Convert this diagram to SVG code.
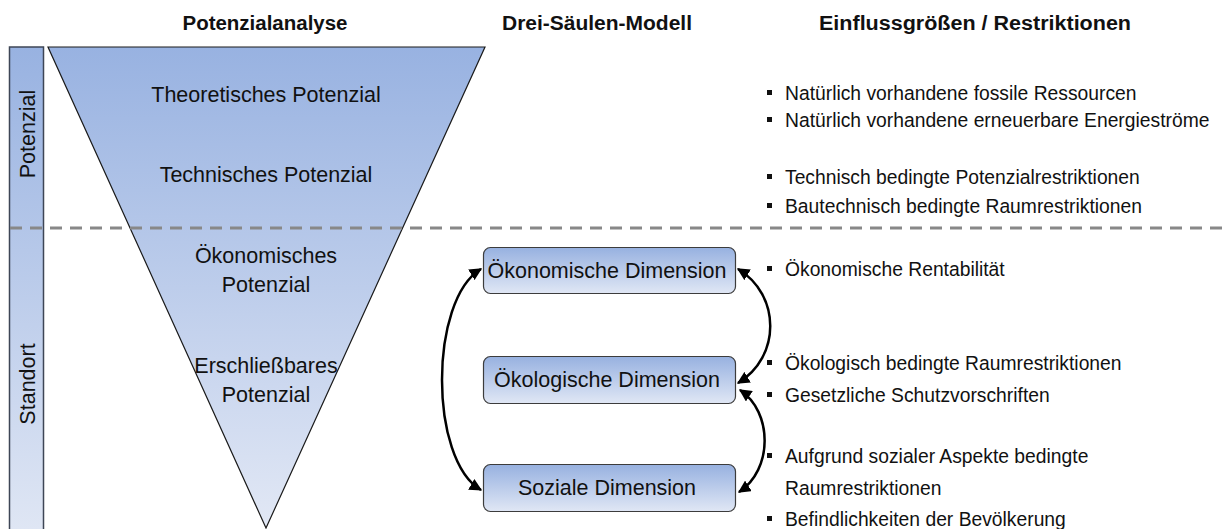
<svg xmlns="http://www.w3.org/2000/svg" width="1228" height="529" viewBox="0 0 1228 529">
<style>
text{font-family:"Liberation Sans",Arial,sans-serif;fill:#111;}
.h{font-weight:bold;font-size:20px;text-anchor:middle;}
.t{font-size:21.5px;text-anchor:middle;}
.b{font-size:19.3px;}
.box{stroke:#3c3c3c;stroke-width:1.2;fill:url(#gBox);}
.arr{fill:none;stroke:#000;stroke-width:2.5;marker-start:url(#ah);marker-end:url(#ah);}
</style>
<defs>
<linearGradient id="gTri" x1="0" y1="47" x2="0" y2="528" gradientUnits="userSpaceOnUse">
<stop offset="0" stop-color="#98b2e1"/><stop offset="1" stop-color="#e2e8f5"/>
</linearGradient>
<linearGradient id="gBar" x1="0" y1="47" x2="0" y2="529" gradientUnits="userSpaceOnUse">
<stop offset="0" stop-color="#98b2e1"/><stop offset="1" stop-color="#dfe6f4"/>
</linearGradient>
<linearGradient id="gBox" x1="0" y1="0" x2="0" y2="1">
<stop offset="0" stop-color="#97b1e0"/><stop offset="1" stop-color="#e0e7f5"/>
</linearGradient>
<marker id="ah" viewBox="0 0 10 10" refX="9" refY="5" markerWidth="5" markerHeight="5" orient="auto-start-reverse" markerUnits="strokeWidth">
<path d="M0,0 L10,5 L0,10 Z" fill="#000"/>
</marker>
</defs>
<rect width="1228" height="529" fill="#fff"/>

<g id="headers">
<text class="h" x="265" y="30" textLength="165" lengthAdjust="spacingAndGlyphs">Potenzialanalyse</text>
<text class="h" x="597" y="30" textLength="190" lengthAdjust="spacingAndGlyphs">Drei-Säulen-Modell</text>
<text class="h" x="975" y="30" textLength="312" lengthAdjust="spacingAndGlyphs">Einflussgrößen / Restriktionen</text>
</g>

<g id="sidebar">
<rect x="9.5" y="47" width="34" height="490" fill="url(#gBar)" stroke="#3e4656" stroke-width="1.5"/>
<text class="t" transform="translate(35,134) rotate(-90)">Potenzial</text>
<text class="t" transform="translate(35,384) rotate(-90)">Standort</text>
</g>

<g id="funnel">
<polygon points="48,47 485,47 266,528" fill="url(#gTri)" stroke="#1a1a1a" stroke-width="1.2" stroke-linejoin="miter"/>
<text class="t" x="266" y="102">Theoretisches Potenzial</text>
<text class="t" x="266" y="182">Technisches Potenzial</text>
<text class="t" x="266" y="263">Ökonomisches</text>
<text class="t" x="266" y="292">Potenzial</text>
<text class="t" x="266" y="373">Erschließbares</text>
<text class="t" x="266" y="402">Potenzial</text>
</g>

<g id="divider">
<line x1="10" y1="228" x2="1228" y2="228" stroke="#888" stroke-width="3" stroke-dasharray="12,8"/>
</g>

<g id="dim-oekonomisch">
<rect class="box" x="483.5" y="247.5" width="252" height="46" rx="7"/>
<text class="t" x="607" y="278">Ökonomische Dimension</text>
</g>
<g id="dim-oekologisch">
<rect class="box" x="483.5" y="356.5" width="252" height="47" rx="7"/>
<text class="t" x="607" y="387">Ökologische Dimension</text>
</g>
<g id="dim-sozial">
<rect class="box" x="483.5" y="464.5" width="252" height="47" rx="7"/>
<text class="t" x="607" y="495">Soziale Dimension</text>
</g>

<g id="connectors">
<path class="arr" d="M481,269 C429,300 429,460 481,490"/>
<path class="arr" d="M738,269 C781,295 781,357 738,383"/>
<path class="arr" d="M740,390 C773,412 773,470 739,492"/>
</g>

<g id="factors">
<g fill="#111">
<rect x="767" y="90" width="5" height="5"/>
<rect x="767" y="117" width="5" height="5"/>
<rect x="767" y="174" width="5" height="5"/>
<rect x="767" y="203" width="5" height="5"/>
<rect x="767" y="266" width="5" height="5"/>
<rect x="767" y="360" width="5" height="5"/>
<rect x="767" y="392" width="5" height="5"/>
<rect x="767" y="453" width="5" height="5"/>
<rect x="767" y="516" width="5" height="5"/>
</g>
<text class="b" x="785" y="100">Natürlich vorhandene fossile Ressourcen</text>
<text class="b" x="785" y="127">Natürlich vorhandene erneuerbare Energieströme</text>
<text class="b" x="785" y="184">Technisch bedingte Potenzialrestriktionen</text>
<text class="b" x="785" y="213">Bautechnisch bedingte Raumrestriktionen</text>
<text class="b" x="785" y="276">Ökonomische Rentabilität</text>
<text class="b" x="785" y="370">Ökologisch bedingte Raumrestriktionen</text>
<text class="b" x="785" y="402">Gesetzliche Schutzvorschriften</text>
<text class="b" x="785" y="463">Aufgrund sozialer Aspekte bedingte</text>
<text class="b" x="785" y="495">Raumrestriktionen</text>
<text class="b" x="785" y="526">Befindlichkeiten der Bevölkerung</text>
</g>
</svg>
